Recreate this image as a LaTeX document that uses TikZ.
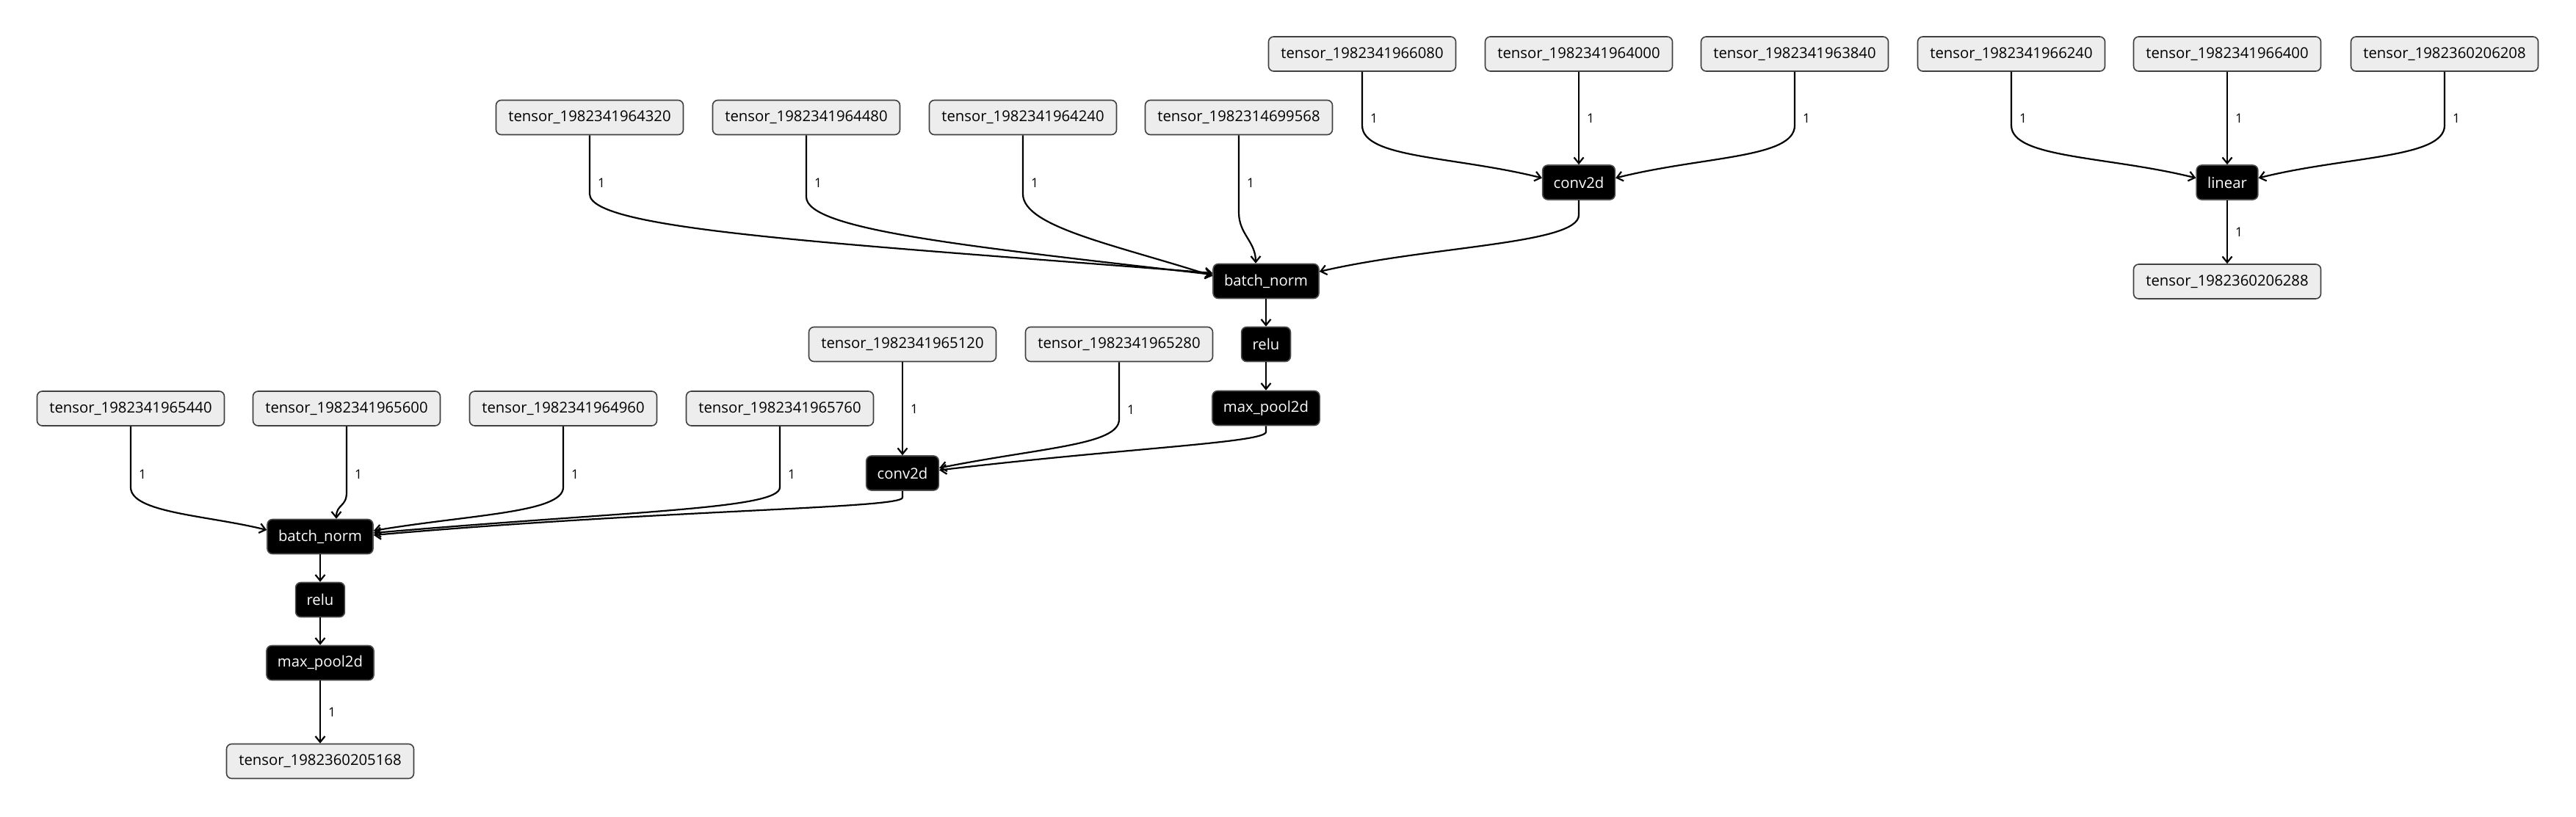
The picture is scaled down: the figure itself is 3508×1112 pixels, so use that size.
\documentclass[tikz,border=0pt]{standalone}
\usepackage{fontspec}
\setmainfont{Open Sans}
\usetikzlibrary{arrows.meta}
\begin{document}
\begin{tikzpicture}[x=1pt,y=1pt,
  tensor/.style={draw=black!75, fill=black!7, line width=1.6pt, rounded corners=7pt,
    minimum width=255pt, minimum height=47pt, inner sep=0pt, font=\fontsize{20.3}{24}\selectfont},
  op/.style={draw=black!70, fill=black, text=white, line width=1.6pt, rounded corners=7pt,
    minimum height=47pt, inner xsep=15pt, inner ysep=0pt, font=\fontsize{20.3}{24}\selectfont},
  conn/.style={line width=2.2pt, -{Straight Barb[length=8pt,width=13pt]}},
  lbl/.style={anchor=west, inner sep=0pt, xshift=10pt, font=\fontsize{17.5}{20}\selectfont}]
\useasboundingbox (0,0) rectangle (3508,-1112);

% upper conv2d group
\node[tensor] (tA1) at (1855,-73.5) {tensor\_1982341966080};
\node[tensor] (tA2) at (2150,-73.5) {tensor\_1982341964000};
\node[tensor] (tA3) at (2444,-73.5) {tensor\_1982341963840};
\node[op] (convA) at (2150,-248.5) {conv2d};
% linear group
\node[tensor] (tB1) at (2739,-73.5) {tensor\_1982341966240};
\node[tensor] (tB2) at (3033,-73.5) {tensor\_1982341966400};
\node[tensor] (tB3) at (3329,-73.5) {tensor\_1982360206208};
\node[op] (linear) at (3033,-248.5) {linear};
\node[tensor] (tB4) at (3033,-383.5) {tensor\_1982360206288};
% upper batch_norm group
\node[tensor] (tC1) at (803,-160) {tensor\_1982341964320};
\node[tensor] (tC2) at (1098,-160) {tensor\_1982341964480};
\node[tensor] (tC3) at (1393,-160) {tensor\_1982341964240};
\node[tensor] (tC4) at (1687,-160) {tensor\_1982314699568};
\node[op] (bnA) at (1724,-383) {batch\_norm};
\node[op] (reluA) at (1724,-469) {relu};
\node[op] (mpA) at (1724,-556) {max\_pool2d};
% lower conv2d group
\node[tensor] (tD1) at (1229,-469) {tensor\_1982341965120};
\node[tensor] (tD2) at (1524,-469) {tensor\_1982341965280};
\node[op] (convB) at (1229,-644.5) {conv2d};
% lower batch_norm group
\node[tensor] (tE1) at (178,-556.5) {tensor\_1982341965440};
\node[tensor] (tE2) at (472,-556.5) {tensor\_1982341965600};
\node[tensor] (tE3) at (767,-556.5) {tensor\_1982341964960};
\node[tensor] (tE4) at (1062,-556.5) {tensor\_1982341965760};
\node[op] (bnB) at (436,-731) {batch\_norm};
\node[op] (reluB) at (436,-817) {relu};
\node[op] (mpB) at (436,-903) {max\_pool2d};
\node[tensor] (tOut) at (436,-1037) {tensor\_1982360205168};

% edges: upper conv2d
\draw[conn] (tA1.south) -- ++(0,-63) node[lbl]{1} -- ++(0,-10) .. controls +(0,-45) and +(-120,30) .. ([yshift=6pt]convA.west);
\draw[conn] (tA2.south) -- node[lbl]{1} (convA.north);
\draw[conn] (tA3.south) -- ++(0,-63) node[lbl]{1} -- ++(0,-10) .. controls +(0,-45) and +(120,30) .. ([yshift=6pt]convA.east);
% linear
\draw[conn] (tB1.south) -- ++(0,-63) node[lbl]{1} -- ++(0,-10) .. controls +(0,-45) and +(-120,30) .. ([yshift=6pt]linear.west);
\draw[conn] (tB2.south) -- node[lbl]{1} (linear.north);
\draw[conn] (tB3.south) -- ++(0,-63) node[lbl]{1} -- ++(0,-10) .. controls +(0,-45) and +(120,30) .. ([yshift=6pt]linear.east);
\draw[conn] (linear.south) -- node[lbl]{1} (tB4.north);
% upper batch_norm
\draw[conn] (convA.south) -- ++(0,-20) .. controls +(0,-40) and +(150,35) .. ([yshift=13pt]bnA.east);
\draw[conn] (tC1.south) -- ++(0,-65) node[lbl]{1} -- ++(0,-15) .. controls +(0,-50) and +(-500,40) .. ([yshift=11pt]bnA.west);
\draw[conn] (tC2.south) -- ++(0,-65) node[lbl]{1} -- ++(0,-19) .. controls +(0,-45) and +(-330,38) .. ([yshift=9pt]bnA.west);
\draw[conn] (tC3.south) -- ++(0,-65) node[lbl]{1} -- ++(0,-15) .. controls +(0,-45) and +(-130,42) .. ([yshift=7pt]bnA.west);
\draw[conn] (tC4.south) -- ++(0,-65) node[lbl]{1} -- ++(0,-40) .. controls +(0,-30) and +(0,30) .. ([xshift=-14pt]bnA.north);
\draw[conn] (bnA.south) -- (reluA.north);
\draw[conn] (reluA.south) -- (mpA.north);
% lower conv2d
\draw[conn] (tD1.south) -- node[lbl]{1} (convB.north);
\draw[conn] (tD2.south) -- ++(0,-65) node[lbl]{1} -- ++(0,-13) .. controls +(0,-35) and +(140,28) .. ([yshift=7pt]convB.east);
\draw[conn] (mpA.south) -- ++(0,-8) .. controls +(0,-15) and +(250,30) .. ([yshift=4pt]convB.east);
% lower batch_norm
\draw[conn] (tE1.south) -- ++(0,-65) node[lbl]{1} -- ++(0,-18) .. controls +(0,-35) and +(-80,20) .. ([yshift=9pt]bnB.west);
\draw[conn] (tE2.south) -- ++(0,-65) node[lbl]{1} -- ++(0,-25) .. controls +(0,-20) and +(0,20) .. ([xshift=22pt]bnB.north);
\draw[conn] (tE3.south) -- ++(0,-65) node[lbl]{1} -- ++(0,-18) .. controls +(0,-35) and +(130,22) .. ([yshift=8pt]bnB.east);
\draw[conn] (tE4.south) -- ++(0,-65) node[lbl]{1} -- ++(0,-18) .. controls +(0,-30) and +(350,30) .. ([yshift=5pt]bnB.east);
\draw[conn] (convB.south) -- ++(0,-9) .. controls +(0,-15) and +(400,35) .. ([yshift=2pt]bnB.east);
\draw[conn] (bnB.south) -- (reluB.north);
\draw[conn] (reluB.south) -- (mpB.north);
\draw[conn] (mpB.south) -- node[lbl]{1} (tOut.north);
\end{tikzpicture}
\end{document}
